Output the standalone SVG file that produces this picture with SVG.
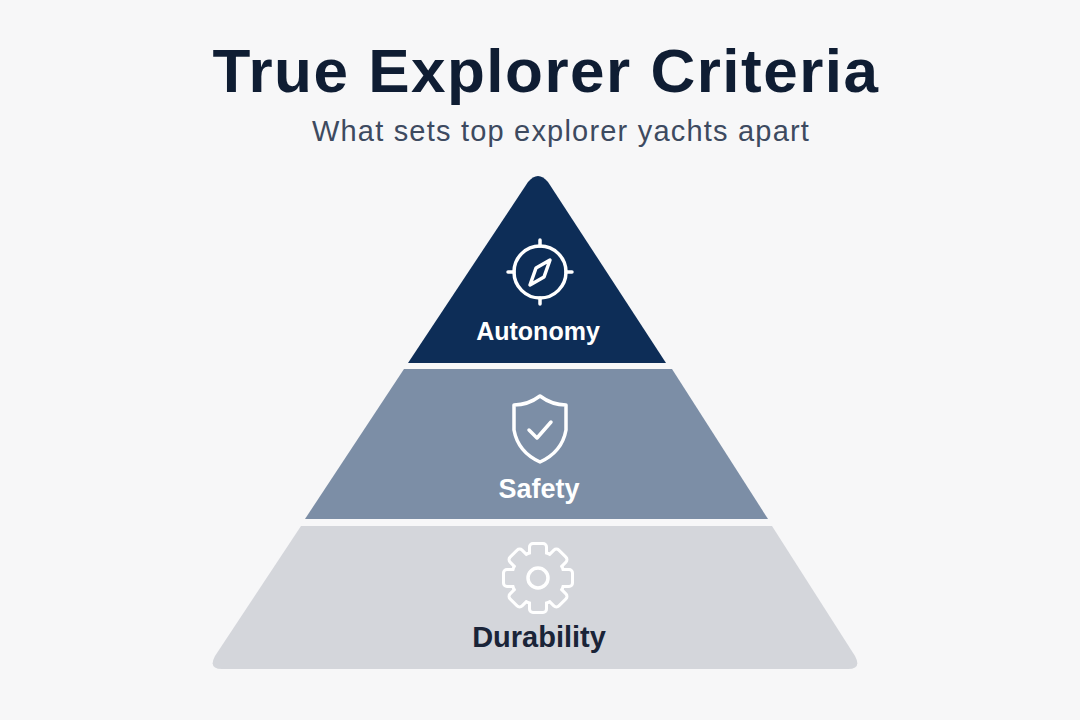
<svg xmlns="http://www.w3.org/2000/svg" width="1080" height="720" viewBox="0 0 1080 720">
<style>
.t{font-family:"Liberation Sans",Arial,sans-serif;font-weight:bold;text-anchor:middle}
.ic{fill:none;stroke:#fff;stroke-width:3.5;stroke-linecap:round;stroke-linejoin:round}
</style>
<defs>
<g id="gearshape">
<circle cx="0" cy="0" r="25"/>
<rect x="-7" y="-33" width="14" height="66" rx="2"/>
<rect x="-7" y="-33" width="14" height="66" rx="2" transform="rotate(45)"/>
<rect x="-7" y="-33" width="14" height="66" rx="2" transform="rotate(90)"/>
<rect x="-7" y="-33" width="14" height="66" rx="2" transform="rotate(135)"/>
</g>
</defs>
<rect width="1080" height="720" fill="#f7f7f8"/>
<text x="546" y="92" class="t" font-size="62" letter-spacing="1.5" fill="#0f1d33">True Explorer Criteria</text>
<text x="561" y="141" font-family="'Liberation Sans',Arial,sans-serif" font-size="29" letter-spacing="1.2" text-anchor="middle" fill="#3d4a60">What sets top explorer yachts apart</text>
<g id="autonomy">
<path d="M528 182 Q538 170 548 182 L666 363 L408 363 Z" fill="#0d2d57"/>
<g class="ic">
<circle cx="540" cy="272" r="26"/>
<line x1="540" y1="240" x2="540" y2="246"/><line x1="540" y1="298" x2="540" y2="304"/>
<line x1="508" y1="272" x2="514" y2="272"/><line x1="566" y1="272" x2="572" y2="272"/>
<path d="M550 260 L544 277 L530 285 L536 268 Z"/>
</g>
<text x="538" y="340" class="t" font-size="25" fill="#fff">Autonomy</text>
</g>
<g id="safety">
<path d="M404 369 L672 369 L768 519 L305 519 Z" fill="#7c8ea6"/>
<path class="ic" d="M540 396 Q552 405 566 405 L566 430 Q562 452 540 462 Q518 452 514 430 L514 405 Q528 405 540 396 Z"/>
<path class="ic" d="M529 430 L537 438 L551 422"/>
<text x="539" y="498" class="t" font-size="27" fill="#fff">Safety</text>
</g>
<g id="durability">
<path d="M301 526 L772 526 L855 656 Q862 669 848 669 L222 669 Q208 669 215 656 Z" fill="#d4d6db"/>
<g transform="translate(538,578)">
<use href="#gearshape" fill="none" stroke="#fff" stroke-width="6"/>
<use href="#gearshape" fill="#d4d6db"/>
<circle r="10" fill="none" stroke="#fff" stroke-width="3.5"/>
</g>
<text x="539" y="647" class="t" font-size="29" fill="#1a2438">Durability</text>
</g>
<g id="connectors"/>
</svg>
